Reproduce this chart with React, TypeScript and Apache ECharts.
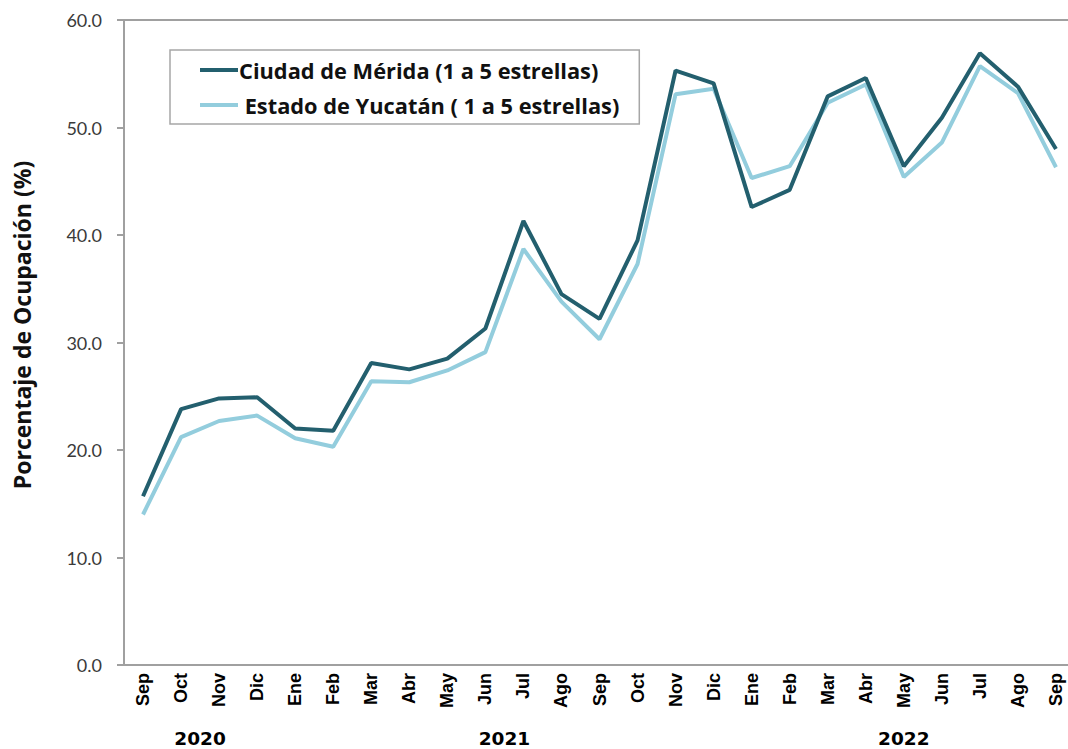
import React, { useEffect, useRef } from "react";
import * as echarts from "echarts";

const months = [
  "Sep", "Oct", "Nov", "Dic",
  "Ene", "Feb", "Mar", "Abr", "May", "Jun", "Jul", "Ago", "Sep", "Oct", "Nov", "Dic",
  "Ene", "Feb", "Mar", "Abr", "May", "Jun", "Jul", "Ago", "Sep",
];
const years = [
  { label: "2020", from: 0, to: 3 },
  { label: "2021", from: 4, to: 15 },
  { label: "2022", from: 16, to: 24 },
];
const yTitle = "Porcentaje de Ocupación (%)";
const meridaName = "Ciudad de Mérida (1 a 5 estrellas)";
const yucatanName = " Estado de Yucatán ( 1 a 5 estrellas)";
const merida = [
  15.7, 23.8, 24.8, 24.9,
  22.0, 21.8, 28.1, 27.5, 28.5, 31.3, 41.3, 34.5, 32.2, 39.5, 55.3, 54.1,
  42.6, 44.2, 52.9, 54.6, 46.4, 50.9, 56.9, 53.8, 48.0,
];
const yucatan = [
  14.0, 21.2, 22.7, 23.2,
  21.1, 20.3, 26.4, 26.3, 27.4, 29.1, 38.7, 33.8, 30.3, 37.3, 53.1, 53.6,
  45.3, 46.4, 52.3, 54.0, 45.4, 48.6, 55.7, 53.2, 46.3,
];

const DARK = "#235f6e";
const LIGHT = "#93cddd";
const AXIS = "#a0a0a0";

export default function App() {
  const ref = useRef<HTMLDivElement>(null);
  useEffect(() => {
    if (!ref.current) return;
    const chart = echarts.init(ref.current, null, { renderer: "svg" });
    chart.setOption({
      animation: false,
      backgroundColor: "#ffffff",
      grid: { left: 124, top: 20, width: 951, height: 645, containLabel: false },
      legend: {
        orient: "vertical",
        left: 170,
        top: 50,
        padding: [8, 20, 7, 30],
        borderColor: "#a6a6a6",
        borderWidth: 1.5,
        itemWidth: 38,
        itemHeight: 4,
        itemGap: 11,
        icon: "rect",
        textStyle: {
          fontFamily: "Open Sans",
          fontWeight: "bold",
          fontSize: 21.8,
          color: "#111",
          lineHeight: 24,
          padding: [0, 0, 0, -4],
        },
        data: [meridaName, yucatanName],
      },
      xAxis: [
        {
          type: "category",
          data: months,
          boundaryGap: true,
          axisLine: { lineStyle: { color: AXIS, width: 2 } },
          axisTick: { show: false },
          axisLabel: {
            interval: 0,
            rotate: 90,
            margin: 8,
            fontFamily: "Liberation Sans",
            fontWeight: "bold",
            fontSize: 18,
            color: "#000",
          },
          splitLine: { show: false },
        },
        {
          type: "category",
          position: "top",
          data: months,
          axisLine: { lineStyle: { color: AXIS, width: 2 } },
          axisTick: { show: false },
          axisLabel: { show: false },
          splitLine: { show: false },
        },
      ],
      yAxis: {
        type: "value",
        min: 0,
        max: 60,
        interval: 10,
        axisLine: { show: true, lineStyle: { color: AXIS, width: 2 } },
        axisTick: { show: true, length: 7, lineStyle: { color: AXIS, width: 2 } },
        axisLabel: {
          formatter: (v: number) => v.toFixed(1),
          fontFamily: "Lato",
          fontSize: 18,
          color: "#3a3a3a",
          margin: 22,
        },
        splitLine: { show: false },
      },
      series: [
        {
          name: meridaName,
          type: "line",
          data: merida,
          symbol: "none",
          color: DARK,
          lineStyle: { color: DARK, width: 4 },
          z: 3,
        },
        {
          name: yucatanName,
          type: "line",
          data: yucatan,
          symbol: "none",
          color: LIGHT,
          lineStyle: { color: LIGHT, width: 4 },
          z: 2,
        },
      ],
    });
    const graphic: any[] = years.map((y) => {
      const a = chart.convertToPixel({ xAxisIndex: 0 }, y.from) as number;
      const b = chart.convertToPixel({ xAxisIndex: 0 }, y.to) as number;
      return {
        type: "text",
        x: (a + b) / 2,
        y: 738,
        style: {
          text: y.label,
          fontFamily: "DejaVu Sans",
          fontWeight: "bold",
          fontSize: 18.5,
          fill: "#000",
          align: "center",
          verticalAlign: "middle",
        },
      };
    });
    graphic.push({
      type: "text",
      x: 22,
      y: 325,
      rotation: Math.PI / 2,
      style: {
        text: yTitle,
        fontFamily: "Open Sans",
        fontWeight: "bold",
        fontSize: 23,
        fill: "#111",
        align: "center",
        verticalAlign: "middle",
      },
    });
    chart.setOption({ graphic });
    return () => chart.dispose();
  }, []);
  return (
    <div style={{ position: "absolute", left: 0, top: 0, width: 1068, height: 749, overflow: "hidden" }}>
      <div ref={ref} style={{ width: 1090, height: 749 }} />
    </div>
  );
}
